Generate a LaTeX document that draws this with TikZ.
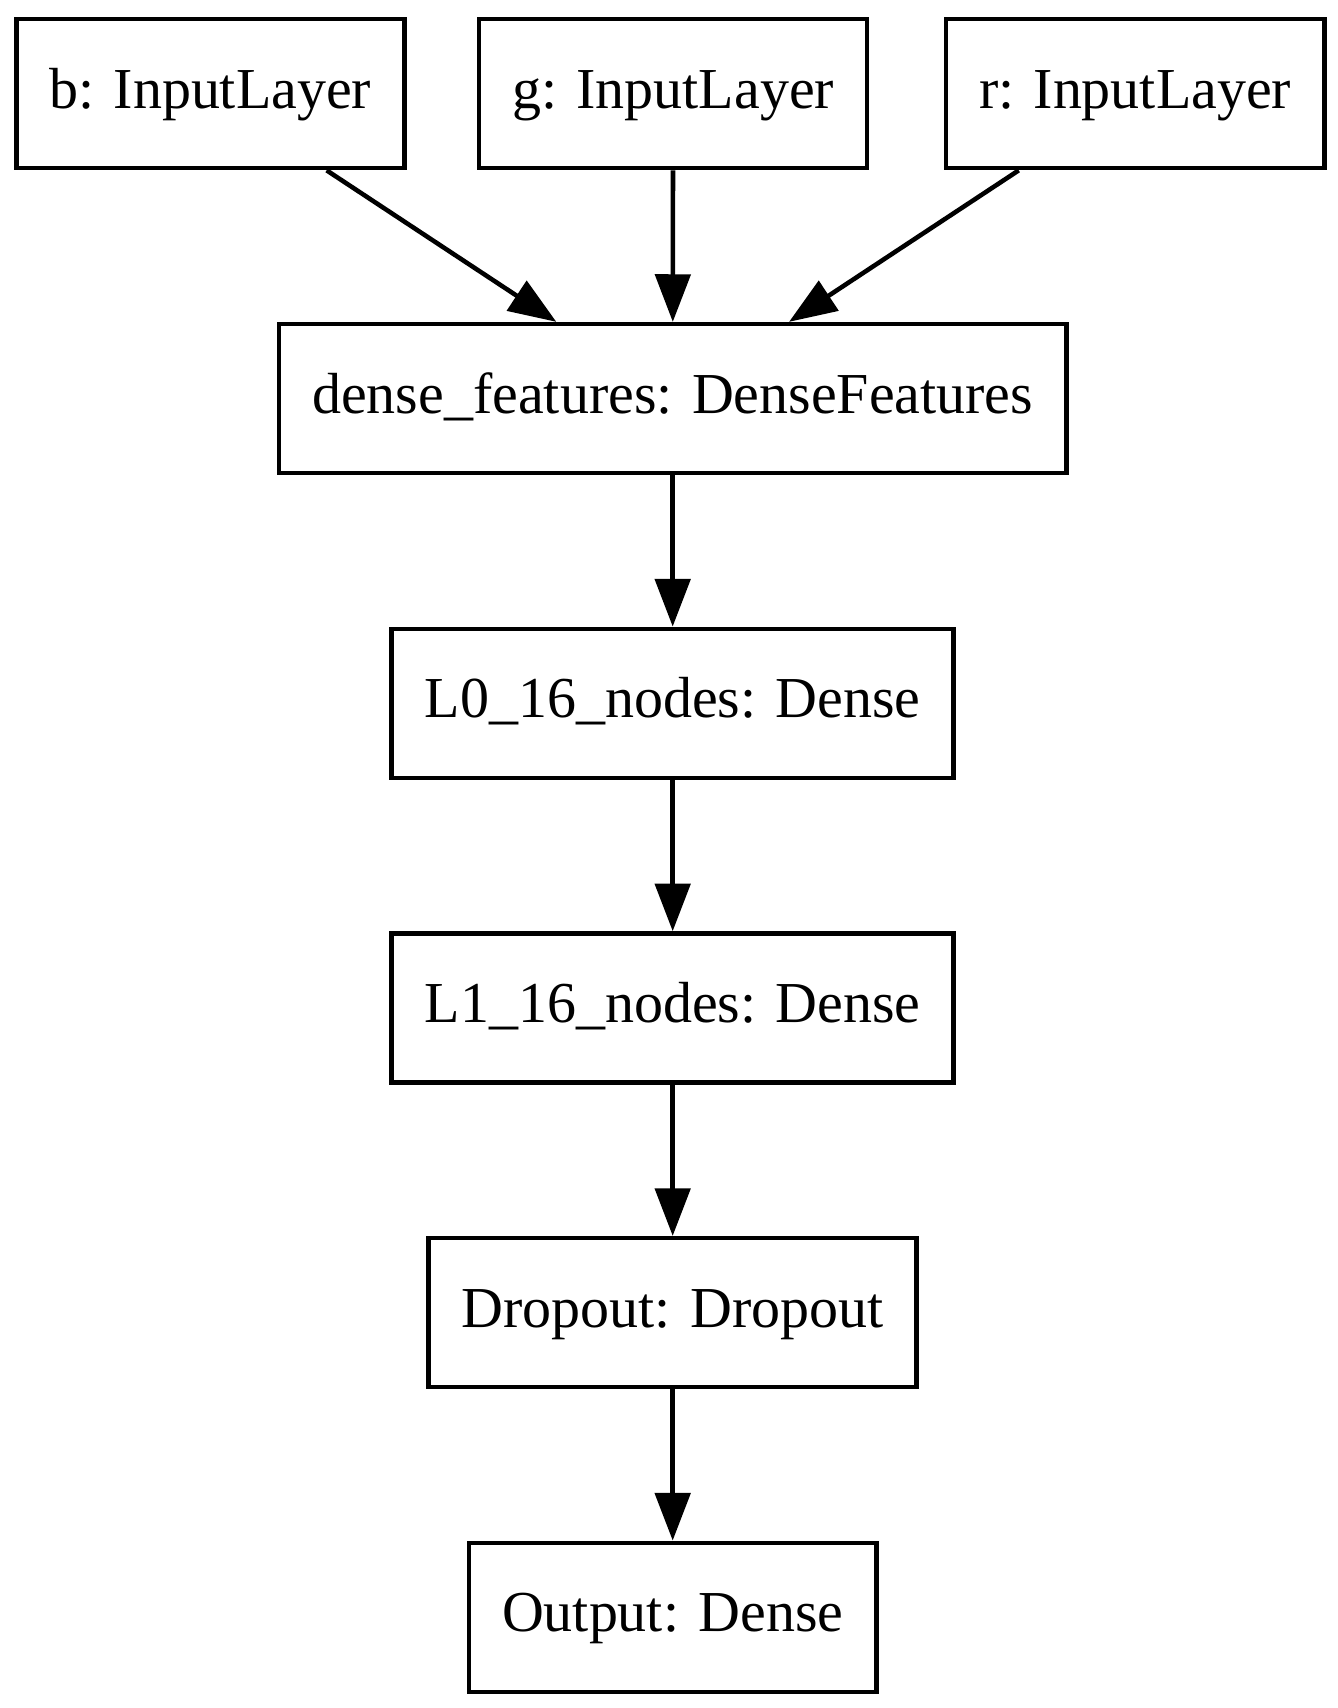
\documentclass[tikz,border=0pt]{standalone}
\usepackage{fontspec}
\setmainfont{Liberation Serif}
\usetikzlibrary{arrows.meta}

\tikzset{
	layer/.style={draw, rectangle, line width=1.1pt, font=\fontsize{14}{16}\selectfont,
		minimum height=36pt, inner xsep=8pt, inner ysep=0pt, text height=9pt, text depth=2pt},
	flow/.style={line width=1.1pt, -{Triangle[length=11.5pt, width=8.5pt]}}}
\tikzset{every picture/.style={line width=1pt}}

\begin{document}
\begin{tikzpicture}[x=1pt,y=1pt,yscale=-1,xscale=1]
	%set diagram frame
	\useasboundingbox (0,0) rectangle (323,412.6);

	%Shape: Rectangle [id:inputs] 
	\node [layer] (b) at (50.8,22.6) {b: InputLayer};
	\node [layer] (g) at (162.6,22.6) {g: InputLayer};
	\node [layer] (r) at (274.2,22.6) {r: InputLayer};
	%Shape: Rectangle [id:features] 
	\node [layer] (dense) at (162.5,96.3) {dense\_features: DenseFeatures};
	%Shape: Rectangle [id:hidden] 
	\node [layer] (L0) at (162.5,169.9) {L0\_16\_nodes: Dense};
	\node [layer] (L1) at (162.5,243.5) {L1\_16\_nodes: Dense};
	%Shape: Rectangle [id:drop] 
	\node [layer] (drop) at (162.5,317.1) {Dropout: Dropout};
	%Shape: Rectangle [id:out] 
	\node [layer] (out) at (162.5,390.7) {Output: Dense};

	%Straight Lines [id:edges] 
	\draw [flow] (b) -- (dense);
	\draw [flow] (g) -- (dense);
	\draw [flow] (r) -- (dense);
	\draw [flow] (dense) -- (L0);
	\draw [flow] (L0) -- (L1);
	\draw [flow] (L1) -- (drop);
	\draw [flow] (drop) -- (out);

\end{tikzpicture}
\end{document}
